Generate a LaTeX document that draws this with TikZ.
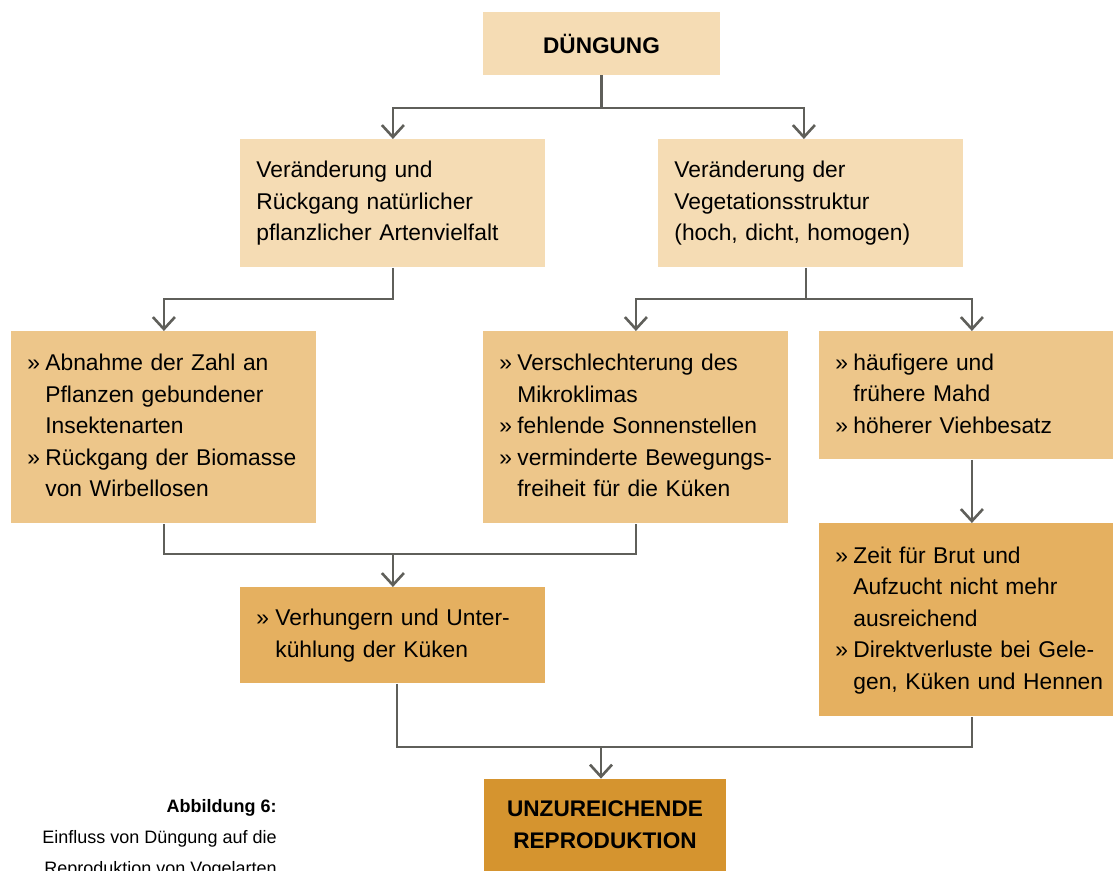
\documentclass[tikz,border=0pt]{standalone}
\usepackage{fontspec}
\setmainfont{Liberation Sans}
\usetikzlibrary{arrows.meta,calc}
\definecolor{cLight}{HTML}{F5DCB4}
\definecolor{cMid}{HTML}{EDC68A}
\definecolor{cDark}{HTML}{E5B060}
\definecolor{cDeep}{HTML}{D5942F}
\definecolor{cLine}{HTML}{5F5F5A}
\begin{document}
\begin{tikzpicture}[x=0.5pt,y=-0.5pt,
  box/.style={anchor=north west, inner xsep=8pt, inner ysep=0pt, align=left,
    text width=136.5pt, font=\fontsize{11.4}{15.75}\selectfont, text=black},
  titlebox/.style={inner sep=0pt, align=center,
    font=\fontsize{11.3}{16}\selectfont\bfseries, text=black},
  capt/.style={anchor=base east, inner sep=0pt, font=\fontsize{9}{15.5}\selectfont, text=black},
  conn/.style={draw=cLine, line width=1.3pt},
  arr/.style={conn, -{Straight Barb[length=6pt,width=11pt]}}]
\useasboundingbox (0,0) rectangle (1113,871);

% boxes
\node[titlebox, fill=cLight, minimum width=118.5pt, minimum height=31.5pt] (d0) at (601.5,43.5) {DÜNGUNG};

\node[box, fill=cLight, minimum height=64pt] (a) at (240,139)
  {Veränderung und\\Rückgang natürlicher\\pflanzlicher Artenvielfalt};
\node[box, fill=cLight, minimum height=64pt] (b) at (658,139)
  {Veränderung der\\Vegetationsstruktur\\(hoch, dicht, homogen)};

\node[box, fill=cMid, minimum height=96pt] (c) at (11,331)
  {\begin{tabular}{@{}p{9pt}@{}l@{}}
   » & Abnahme der Zahl an\\
     & Pflanzen gebundener\\
     & Insektenarten\\
   » & Rückgang der Biomasse\\
     & von Wirbellosen
   \end{tabular}};
\node[box, fill=cMid, minimum height=96pt] (d) at (483,331)
  {\begin{tabular}{@{}p{9pt}@{}l@{}}
   » & Verschlechterung des\\
     & Mikroklimas\\
   » & fehlende Sonnenstellen\\
   » & verminderte Bewegungs-\\
     & freiheit für die Küken
   \end{tabular}};
\node[box, fill=cMid, minimum height=64pt] (e) at (819,331)
  {\begin{tabular}{@{}p{9pt}@{}l@{}}
   » & häufigere und\\
     & frühere Mahd\\
   » & höherer Viehbesatz
   \end{tabular}};

\node[box, fill=cDark, minimum height=48pt] (g) at (240,587)
  {\begin{tabular}{@{}p{9.5pt}@{}l@{}}
   » & Verhungern und Unter-\\
     & kühlung der Küken
   \end{tabular}};
\node[box, fill=cDark, minimum height=96.5pt] (f) at (819,523)
  {\begin{tabular}{@{}p{9pt}@{}l@{}}
   » & Zeit für Brut und\\
     & Aufzucht nicht mehr\\
     & ausreichend\\
   » & Direktverluste bei Gele-\\
     & gen, Küken und Hennen
   \end{tabular}};

\node[titlebox, fill=cDeep, minimum width=121pt, minimum height=46pt] (h) at (605,825)
  {UNZUREICHENDE\\REPRODUKTION};

% caption
\node[capt, font=\fontsize{9}{15.5}\selectfont\bfseries] (cap1) at (277,812) {Abbildung 6:};
\node[capt] (cap2) at (277,843) {Einfluss von Düngung auf die};
\node[capt] (cap3) at (277,874) {Reproduktion von Vogelarten};

% helper coordinates
\coordinate (y1) at (0,108);
\coordinate (y2) at (0,299);
\coordinate (y4) at (0,554);
\coordinate (y5) at (0,747);
\coordinate (bn) at ($(b.north)+(-7,0)$);
\coordinate (bs) at ($(b.south)+(-5,0)$);
\coordinate (gs) at ($(g.south)+(4,0)$);
\coordinate (hn) at ($(h.north)+(-4,0)$);

% connectors
\draw[conn] (d0.south) -- (d0.south |- y1);
\draw[arr] (d0.south |- y1) -| (a.north);
\draw[arr] (d0.south |- y1) -| (bn);

\draw[arr] (a.south) -- (a.south |- y2) -| (c.north);
\draw[conn] (bs) -- (bs |- y2);
\draw[arr] (bs |- y2) -| (d.north);
\draw[arr] (bs |- y2) -| (e.north);

\draw[conn] (c.south) -- (c.south |- y4) -- (d.south |- y4) -- (d.south);
\draw[arr] (g.north |- y4) -- (g.north);

\draw[arr] (e.south) -- (f.north);

\draw[conn] (gs) -- (gs |- y5) -- (f.south |- y5) -- (f.south);
\draw[arr] (hn |- y5) -- (hn);
\end{tikzpicture}
\end{document}
